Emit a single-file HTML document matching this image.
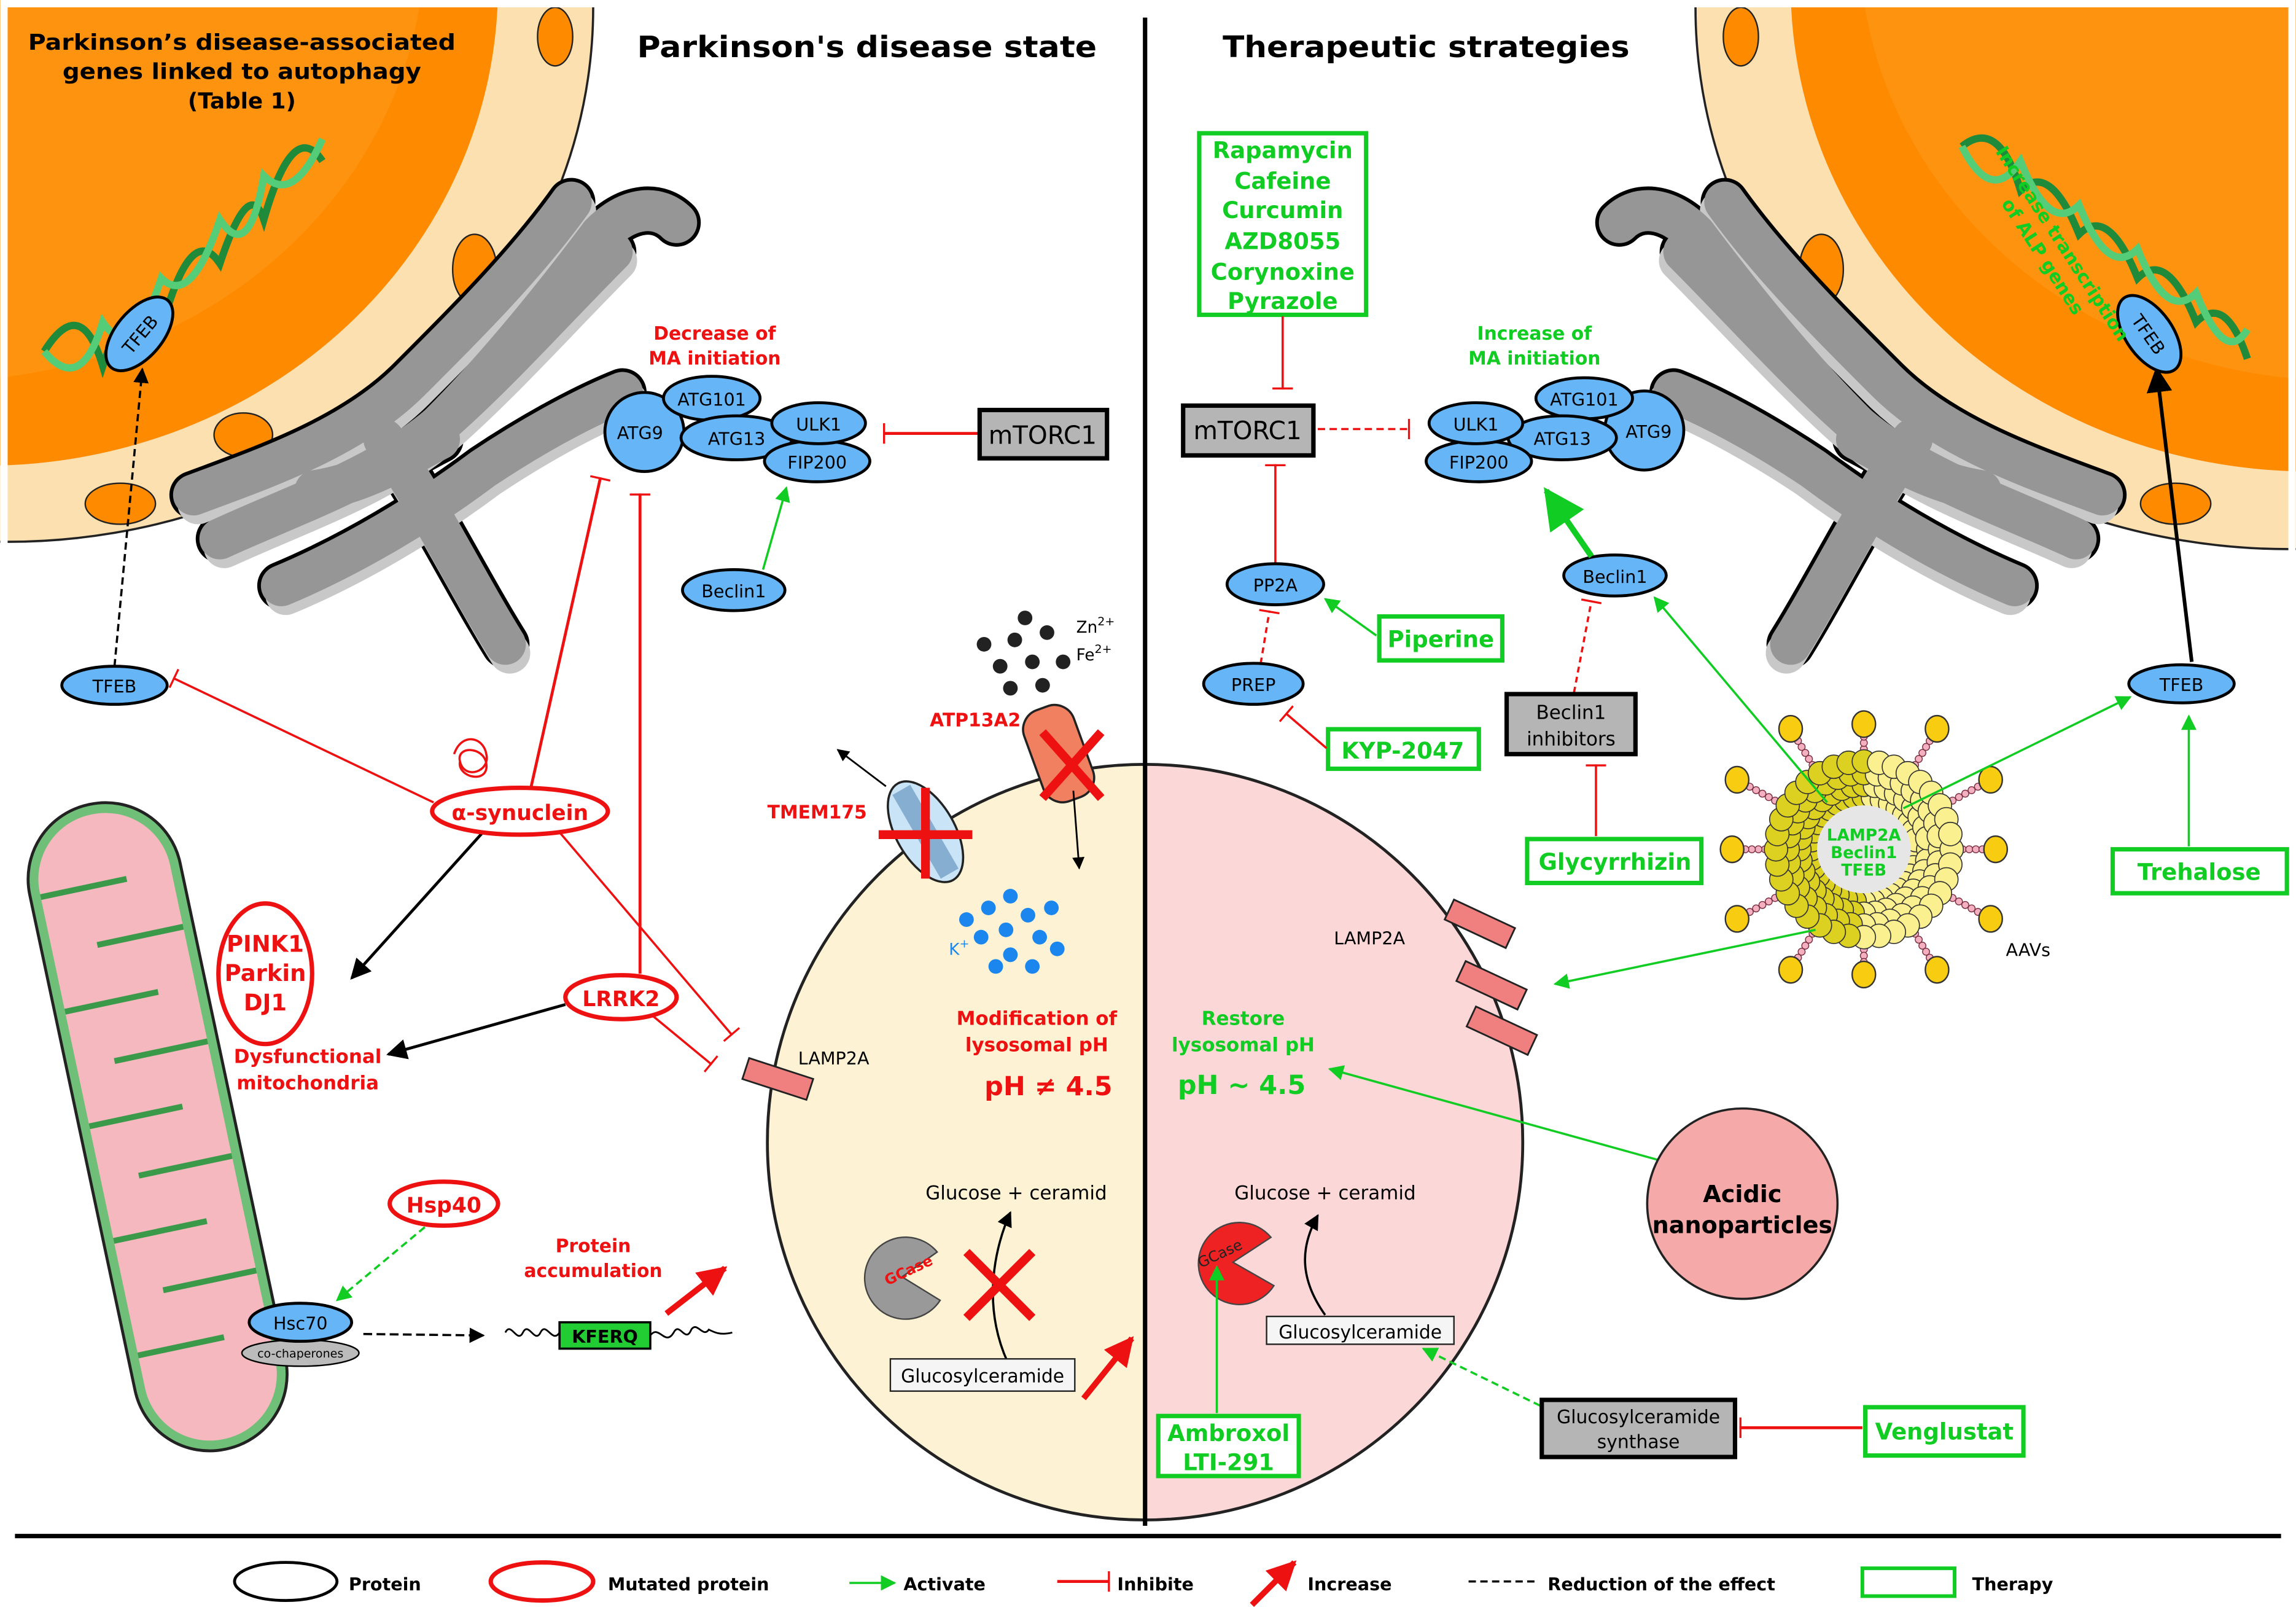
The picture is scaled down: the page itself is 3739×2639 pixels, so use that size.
<!DOCTYPE html>
<html><head><meta charset="utf-8"><style>
html,body{margin:0;padding:0;background:#fff}
svg{display:block}
text{font-family:"DejaVu Sans","Liberation Sans",sans-serif}
.b{font-weight:bold}
.r{fill:#ee1111}
.g{fill:#11cc22}
</style></head><body>
<svg id="s" width="3739" height="2639" viewBox="0 0 1568 1107" xmlns="http://www.w3.org/2000/svg">
<defs>
<marker id="ak" viewBox="0 0 10 10" refX="9" refY="5" markerWidth="7" markerHeight="7" orient="auto"><path d="M0,0L10,5L0,10z" fill="#000"/></marker>
<marker id="ag" viewBox="0 0 10 10" refX="9" refY="5" markerWidth="7" markerHeight="7" orient="auto"><path d="M0,0L10,5L0,10z" fill="#11cc22"/></marker>
<marker id="ar" viewBox="0 0 10 10" refX="9" refY="5" markerWidth="5" markerHeight="5" orient="auto"><path d="M0,0L10,5L0,10z" fill="#ee1111"/></marker>
<marker id="tr" viewBox="0 0 4 20" refX="2" refY="10" markerWidth="4" markerHeight="14" orient="auto" markerUnits="userSpaceOnUse"><rect x="0" y="0" width="2" height="20" fill="#ee1111"/></marker>
<g id="golgi">
<g fill="none" stroke-linecap="round" stroke-linejoin="round">
<g stroke="#000" stroke-width="33">
<path d="M132,338 C180,320 240,300 280,260 C320,220 360,180 390,138"/>
<path d="M150,368 C200,345 260,325 300,290 C340,255 380,210 418,172"/>
<path d="M192,400 C240,380 290,350 330,320 C360,300 395,280 425,268"/>
<path d="M262,300 C290,340 320,400 345,440"/>
<path d="M300,290 C340,250 380,200 410,160 C430,140 450,140 462,152"/>
<path d="M215,335 C250,330 280,310 300,300"/>
</g>
<g stroke="#c8c8c8" stroke-width="28" transform="translate(3,6)">
<path d="M132,338 C180,320 240,300 280,260 C320,220 360,180 390,138"/>
<path d="M150,368 C200,345 260,325 300,290 C340,255 380,210 418,172"/>
<path d="M192,400 C240,380 290,350 330,320 C360,300 395,280 425,268"/>
<path d="M262,300 C290,340 320,400 345,440"/>
</g>
<g stroke="#969696" stroke-width="28">
<path d="M132,338 C180,320 240,300 280,260 C320,220 360,180 390,138"/>
<path d="M150,368 C200,345 260,325 300,290 C340,255 380,210 418,172"/>
<path d="M192,400 C240,380 290,350 330,320 C360,300 395,280 425,268"/>
<path d="M262,300 C290,340 320,400 345,440"/>
<path d="M300,290 C340,250 380,200 410,160 C430,140 450,140 462,152"/>
<path d="M215,335 C250,330 280,310 300,300"/>
</g>
</g>
</g>
</defs>
<rect width="1568" height="1107" fill="#fff"/>

<!-- Left nucleus -->
<ellipse cx="5" cy="5" rx="400" ry="365" fill="#fde0b0" stroke="#222" stroke-width="1.5"/>
<ellipse cx="-10" cy="-10" rx="350" ry="328" fill="#fe8a00"/>
<ellipse cx="-40" cy="-40" rx="330" ry="300" fill="#fe9a1a" opacity=".6"/>
<g fill="#fe8a00" stroke="#222" stroke-width="1">
<ellipse cx="82" cy="344" rx="24" ry="14"/><ellipse cx="166" cy="297" rx="20" ry="15"/><ellipse cx="324" cy="184" rx="15" ry="24"/><ellipse cx="379" cy="25" rx="12" ry="20"/></g>
<rect x="0" y="0" width="5" height="1048" fill="#fff"/><rect x="0" y="0" width="780" height="5" fill="#fff"/>
<!-- Right nucleus -->
<ellipse cx="1563" cy="5" rx="405" ry="370" fill="#fde0b0" stroke="#222" stroke-width="1.5"/>
<ellipse cx="1578" cy="-10" rx="355" ry="332" fill="#fe8a00"/>
<ellipse cx="1600" cy="-40" rx="330" ry="300" fill="#fe9a1a" opacity=".6"/>
<g fill="#fe8a00" stroke="#222" stroke-width="1">
<ellipse cx="1486" cy="344" rx="24" ry="14"/><ellipse cx="1244" cy="184" rx="15" ry="24"/><ellipse cx="1189" cy="25" rx="12" ry="20"/></g>
<rect x="1563" y="0" width="5" height="1048" fill="#fff"/><rect x="782" y="0" width="786" height="5" fill="#fff"/>

<!-- DNA -->
<g fill="none" stroke-width="5">
<path d="M30,240 Q55,200 70,250 Q90,190 110,225 Q130,150 150,180 Q170,120 180,150 Q200,80 220,110" stroke="#1e8a3a"/>
<path d="M30,240 Q55,270 70,220 Q90,250 110,190 Q130,210 150,150 Q170,180 180,120 Q200,140 220,95" stroke="#55cc77"/>
</g>
<g fill="none" stroke-width="5">
<path d="M1340,100 Q1365,80 1380,130 Q1400,110 1420,160 Q1440,140 1460,190 Q1480,170 1500,220 Q1520,200 1535,245" stroke="#1e8a3a"/>
<path d="M1340,100 Q1360,140 1380,110 Q1400,160 1420,140 Q1440,190 1460,170 Q1480,220 1500,200 Q1520,250 1535,225" stroke="#55cc77"/>
</g>

<!-- Golgi -->
<use href="#golgi"/>
<use href="#golgi" transform="translate(1568,0) scale(-1,1)"/>

<!-- Lysosome -->
<path d="M782,522 A258,258 0 0 0 782,1038 Z" fill="#fdf3d4" stroke="#222" stroke-width="2"/>
<path d="M782,522 A258,258 0 0 1 782,1038 Z" fill="#fcd7d7" stroke="#222" stroke-width="2"/>

<!-- Mitochondrion -->
<g transform="rotate(-12 105 770)">
<rect x="55" y="545" width="105" height="450" rx="52" fill="#6fbf78" stroke="#222" stroke-width="2"/>
<rect x="62" y="552" width="91" height="436" rx="45" fill="#f4b8be"/>
<g fill="none" stroke="#3a9a4a" stroke-width="4">
<path d="M62,600 h60"/><path d="M153,640 h-60"/><path d="M62,680 h65"/><path d="M153,720 h-65"/><path d="M62,760 h65"/><path d="M153,800 h-65"/><path d="M62,840 h65"/><path d="M153,880 h-65"/><path d="M62,920 h60"/></g>
</g>

<!-- dividing lines -->
<line x1="782" y1="12" x2="782" y2="1042" stroke="#000" stroke-width="3"/>
<line x1="10" y1="1049" x2="1558" y2="1049" stroke="#000" stroke-width="3"/>

<!-- Titles -->
<text x="165" y="34" text-anchor="middle" class="b" font-size="15" textLength="292" lengthAdjust="spacingAndGlyphs">Parkinson’s disease-associated</text>
<text x="165" y="54" text-anchor="middle" class="b" font-size="15" textLength="245" lengthAdjust="spacingAndGlyphs">genes linked to autophagy</text>
<text x="165" y="74" text-anchor="middle" class="b" font-size="15">(Table 1)</text>
<text x="592" y="39" text-anchor="middle" class="b" font-size="20" textLength="314" lengthAdjust="spacingAndGlyphs">Parkinson's disease state</text>
<text x="974" y="39" text-anchor="middle" class="b" font-size="20" textLength="278" lengthAdjust="spacingAndGlyphs">Therapeutic strategies</text>

<!-- LEFT SIDE -->
<line x1="78" y1="455" x2="97" y2="252" stroke="#000" stroke-width="1.5" stroke-dasharray="5,3" marker-end="url(#ak)"/>
<g transform="rotate(-50 95 228)"><ellipse cx="95" cy="228" rx="30" ry="16" fill="#66b5f6" stroke="#000" stroke-width="2"/><text x="95" y="233" text-anchor="middle" font-size="12">TFEB</text></g>
<ellipse cx="78" cy="468" rx="36" ry="13" fill="#66b5f6" stroke="#000" stroke-width="2"/><text x="78" y="473" text-anchor="middle" font-size="12">TFEB</text>

<text x="488" y="232" text-anchor="middle" class="b r" font-size="12.5">Decrease of</text>
<text x="488" y="249" text-anchor="middle" class="b r" font-size="12.5">MA initiation</text>
<g stroke="#000" stroke-width="2" fill="#66b5f6">
<circle cx="440" cy="295" r="27"/>
<ellipse cx="486" cy="272" rx="33" ry="15"/>
<ellipse cx="503" cy="299" rx="38" ry="15"/>
<ellipse cx="558" cy="315" rx="36" ry="14"/>
<ellipse cx="559" cy="289" rx="32" ry="14"/>
</g>
<g font-size="12" text-anchor="middle">
<text x="437" y="300">ATG9</text><text x="486" y="277">ATG101</text><text x="503" y="304">ATG13</text><text x="559" y="294">ULK1</text><text x="558" y="320">FIP200</text></g>
<line x1="668" y1="296" x2="603" y2="296" stroke="#ee1111" stroke-width="2" marker-end="url(#tr)"/>
<rect x="669" y="280" width="87" height="33" fill="#b5b5b5" stroke="#000" stroke-width="3"/>
<text x="712" y="303" text-anchor="middle" font-size="17">mTORC1</text>
<ellipse cx="501" cy="403" rx="35" ry="14" fill="#66b5f6" stroke="#000" stroke-width="2"/><text x="501" y="408" text-anchor="middle" font-size="12">Beclin1</text>
<line x1="521" y1="389" x2="537" y2="333" stroke="#11cc22" stroke-width="1.5" marker-end="url(#ag)"/>

<line x1="362" y1="540" x2="410" y2="326" stroke="#ee1111" stroke-width="2" marker-end="url(#tr)"/>
<line x1="437" y1="665" x2="437" y2="337" stroke="#ee1111" stroke-width="2" marker-end="url(#tr)"/>
<line x1="296" y1="548" x2="118" y2="463" stroke="#ee1111" stroke-width="1.5" marker-end="url(#tr)"/>
<line x1="380" y1="566" x2="500" y2="707" stroke="#ee1111" stroke-width="1.5" marker-end="url(#tr)"/>
<line x1="446" y1="694" x2="486" y2="727" stroke="#ee1111" stroke-width="1.5" marker-end="url(#tr)"/>
<line x1="330" y1="568" x2="240" y2="668" stroke="#000" stroke-width="2" marker-end="url(#ak)"/>
<line x1="386" y1="686" x2="265" y2="720" stroke="#000" stroke-width="2" marker-end="url(#ak)"/>
<path d="M310,515 c5,-15 20,-12 22,0 c3,12 -15,18 -18,5 c-3,-12 20,-10 18,5 c-2,10 -20,5 -18,-5" fill="none" stroke="#ee1111" stroke-width="1.5"/>
<ellipse cx="355" cy="554" rx="60" ry="16" fill="#fff" stroke="#ee1111" stroke-width="3"/>
<text x="355" y="560" text-anchor="middle" class="b r" font-size="14.5">α-synuclein</text>
<ellipse cx="181" cy="665" rx="32" ry="48" fill="#fff" stroke="#ee1111" stroke-width="3"/>
<text x="181" y="650" text-anchor="middle" class="b r" font-size="15.5">PINK1</text>
<text x="181" y="670" text-anchor="middle" class="b r" font-size="15.5">Parkin</text>
<text x="181" y="690" text-anchor="middle" class="b r" font-size="15.5">DJ1</text>
<ellipse cx="424" cy="681" rx="38" ry="15" fill="#fff" stroke="#ee1111" stroke-width="3"/>
<text x="424" y="687" text-anchor="middle" class="b r" font-size="14.5">LRRK2</text>
<text x="210" y="726" text-anchor="middle" class="b r" font-size="13">Dysfunctional</text>
<text x="210" y="744" text-anchor="middle" class="b r" font-size="13">mitochondria</text>

<g transform="rotate(18 530 737)"><rect x="508" y="729" width="46" height="15" fill="#f08080" stroke="#222" stroke-width="1.2"/></g>
<text x="545" y="727" font-size="12">LAMP2A</text>

<ellipse cx="303" cy="822" rx="37" ry="15" fill="#fff" stroke="#ee1111" stroke-width="3"/>
<text x="303" y="828" text-anchor="middle" class="b r" font-size="14.5">Hsp40</text>
<line x1="290" y1="838" x2="230" y2="888" stroke="#11cc22" stroke-width="1.5" stroke-dasharray="5,3" marker-end="url(#ag)"/>
<ellipse cx="205" cy="924" rx="40" ry="9" fill="#bbb" stroke="#000" stroke-width="1"/>
<text x="205" y="927" text-anchor="middle" font-size="8">co-chaperones</text>
<ellipse cx="205" cy="903" rx="35" ry="13" fill="#66b5f6" stroke="#000" stroke-width="2"/><text x="205" y="908" text-anchor="middle" font-size="12">Hsc70</text>
<line x1="248" y1="911" x2="330" y2="912" stroke="#000" stroke-width="1.5" stroke-dasharray="6,3" marker-end="url(#ak)"/>
<path d="M345,910 c4,-8 8,8 12,0 c4,-8 8,8 12,0 c4,-8 8,8 13,0 M444,912 c6,-8 10,8 16,-2 c4,-8 8,8 12,-2 c4,-6 8,6 12,0 c4,2 8,4 16,2" fill="none" stroke="#000" stroke-width="1.2"/>
<rect x="382" y="903" width="62" height="18" fill="#22cc33" stroke="#000" stroke-width="1.5"/>
<text x="413" y="917" text-anchor="middle" class="b" font-size="12">KFERQ</text>
<text x="405" y="855" text-anchor="middle" class="b r" font-size="12.5">Protein</text>
<text x="405" y="872" text-anchor="middle" class="b r" font-size="12.5">accumulation</text>
<line x1="455" y1="897" x2="495" y2="866" stroke="#ee1111" stroke-width="4" marker-end="url(#ar)"/>

<!-- left lysosome content -->
<text x="708" y="700" text-anchor="middle" class="b r" font-size="13">Modification of</text>
<text x="708" y="718" text-anchor="middle" class="b r" font-size="13">lysosomal pH</text>
<text x="716" y="748" text-anchor="middle" class="b r" font-size="18">pH ≠ 4.5</text>
<text x="694" y="819" text-anchor="middle" font-size="13">Glucose + ceramid</text>
<path d="M688,930 C670,890 680,850 690,828" fill="none" stroke="#000" stroke-width="1.5" marker-end="url(#ak)"/>
<path d="M616,872 L640,855 A28,28 0 1 0 642,888 Z" fill="#999" stroke="#444" stroke-width="1"/>
<text x="606" y="878" class="b r" font-size="10" transform="rotate(-25 606 878)">GCase</text>
<path d="M660,855 L705,900 M705,855 L660,900" stroke="#ee1111" stroke-width="6"/>
<rect x="608" y="928" width="126" height="22" fill="#f5f5f5" stroke="#222" stroke-width="1"/>
<text x="671" y="944" text-anchor="middle" font-size="12.5">Glucosylceramide</text>
<line x1="740" y1="955" x2="773" y2="914" stroke="#ee1111" stroke-width="4" marker-end="url(#ar)"/>

<text x="666" y="496" text-anchor="middle" class="b r" font-size="12.5">ATP13A2</text>
<text x="558" y="559" text-anchor="middle" class="b r" font-size="12.5">TMEM175</text>
<g transform="rotate(-20 722 515)"><rect x="705" y="482" width="36" height="66" rx="14" fill="#f08060" stroke="#222" stroke-width="1.5"/></g>
<path d="M712,500 L752,545 M752,500 L712,545" stroke="#ee1111" stroke-width="6"/>
<g transform="rotate(-30 632 568)"><ellipse cx="632" cy="568" rx="20" ry="38" fill="#c8e4f6" stroke="#222" stroke-width="1.5"/><rect x="625" y="535" width="14" height="66" fill="#5a8ab8" opacity=".6"/></g>
<path d="M600,570 h64 M632,538 v62" stroke="#ee1111" stroke-width="6"/>
<line x1="605" y1="537" x2="572" y2="512" stroke="#000" stroke-width="1.2" marker-end="url(#ak)"/>
<line x1="733" y1="540" x2="737" y2="593" stroke="#000" stroke-width="1.2" marker-end="url(#ak)"/>
<g fill="#222"><circle cx="672" cy="440" r="5"/><circle cx="693" cy="437" r="5"/><circle cx="715" cy="432" r="5"/><circle cx="683" cy="455" r="5"/><circle cx="705" cy="452" r="5"/><circle cx="726" cy="452" r="5"/><circle cx="690" cy="470" r="5"/><circle cx="712" cy="468" r="5"/><circle cx="700" cy="422" r="5"/></g>
<text x="735" y="432" font-size="11">Zn<tspan dy="-5" font-size="8">2+</tspan></text>
<text x="735" y="451" font-size="11">Fe<tspan dy="-5" font-size="8">2+</tspan></text>
<g fill="#1a86ee"><circle cx="660" cy="628" r="5"/><circle cx="675" cy="620" r="5"/><circle cx="690" cy="612" r="5"/><circle cx="702" cy="625" r="5"/><circle cx="718" cy="620" r="5"/><circle cx="670" cy="640" r="5"/><circle cx="687" cy="635" r="5"/><circle cx="710" cy="640" r="5"/><circle cx="690" cy="652" r="5"/><circle cx="705" cy="660" r="5"/><circle cx="722" cy="648" r="5"/><circle cx="680" cy="660" r="5"/></g>
<text x="648" y="652" font-size="11" fill="#1a86ee">K<tspan dy="-5" font-size="8">+</tspan></text>

<!-- RIGHT SIDE -->
<rect x="819" y="91" width="114" height="124" fill="#fff" stroke="#11cc22" stroke-width="3"/>
<g class="b g" font-size="15.5" text-anchor="middle">
<text x="876" y="108">Rapamycin</text><text x="876" y="129">Cafeine</text><text x="876" y="149">Curcumin</text><text x="876" y="170">AZD8055</text><text x="876" y="191">Corynoxine</text><text x="876" y="211">Pyrazole</text></g>
<line x1="876" y1="216" x2="876" y2="266" stroke="#ee1111" stroke-width="1.5" marker-end="url(#tr)"/>
<rect x="808" y="277" width="89" height="34" fill="#b5b5b5" stroke="#000" stroke-width="3"/>
<text x="852" y="300" text-anchor="middle" font-size="17">mTORC1</text>
<line x1="900" y1="293" x2="963" y2="293" stroke="#ee1111" stroke-width="1.5" stroke-dasharray="5,3" marker-end="url(#tr)"/>
<text x="1048" y="232" text-anchor="middle" class="b g" font-size="12.5">Increase of</text>
<text x="1048" y="249" text-anchor="middle" class="b g" font-size="12.5">MA initiation</text>
<g stroke="#000" stroke-width="2" fill="#66b5f6">
<circle cx="1123" cy="294" r="27"/>
<ellipse cx="1082" cy="272" rx="33" ry="14"/>
<ellipse cx="1067" cy="299" rx="37" ry="15"/>
<ellipse cx="1010" cy="315" rx="36" ry="14"/>
<ellipse cx="1008" cy="289" rx="32" ry="14"/>
</g>
<g font-size="12" text-anchor="middle">
<text x="1126" y="299">ATG9</text><text x="1082" y="277">ATG101</text><text x="1067" y="304">ATG13</text><text x="1008" y="294">ULK1</text><text x="1010" y="320">FIP200</text></g>

<line x1="871" y1="385" x2="871" y2="317" stroke="#ee1111" stroke-width="1.5" marker-end="url(#tr)"/>
<ellipse cx="871" cy="399" rx="33" ry="14" fill="#66b5f6" stroke="#000" stroke-width="2"/><text x="871" y="404" text-anchor="middle" font-size="12">PP2A</text>
<line x1="861" y1="453" x2="867" y2="417" stroke="#ee1111" stroke-width="1.5" stroke-dasharray="4,3" marker-end="url(#tr)"/>
<ellipse cx="856" cy="467" rx="34" ry="14" fill="#66b5f6" stroke="#000" stroke-width="2"/><text x="856" y="472" text-anchor="middle" font-size="12">PREP</text>
<rect x="942" y="421" width="84" height="30" fill="#fff" stroke="#11cc22" stroke-width="3"/>
<text x="984" y="442" text-anchor="middle" class="b g" font-size="15.5">Piperine</text>
<line x1="940" y1="434" x2="905" y2="409" stroke="#11cc22" stroke-width="1.5" marker-end="url(#ag)"/>
<rect x="907" y="498" width="103" height="27" fill="#fff" stroke="#11cc22" stroke-width="3"/>
<text x="958" y="518" text-anchor="middle" class="b g" font-size="15.5">KYP-2047</text>
<line x1="906" y1="511" x2="878" y2="487" stroke="#ee1111" stroke-width="1.5" marker-end="url(#tr)"/>
<ellipse cx="1103" cy="393" rx="35" ry="14" fill="#66b5f6" stroke="#000" stroke-width="2"/><text x="1103" y="398" text-anchor="middle" font-size="12">Beclin1</text>
<line x1="1087" y1="380" x2="1056" y2="335" stroke="#11cc22" stroke-width="4" marker-end="url(#ag)"/>
<line x1="1075" y1="473" x2="1087" y2="410" stroke="#ee1111" stroke-width="1.5" stroke-dasharray="4,3" marker-end="url(#tr)"/>
<rect x="1029" y="474" width="88" height="41" fill="#b5b5b5" stroke="#000" stroke-width="3"/>
<text x="1073" y="491" text-anchor="middle" font-size="13">Beclin1</text>
<text x="1073" y="509" text-anchor="middle" font-size="13">inhibitors</text>
<line x1="1090" y1="571" x2="1090" y2="522" stroke="#ee1111" stroke-width="1.5" marker-end="url(#tr)"/>
<rect x="1043" y="573" width="119" height="30" fill="#fff" stroke="#11cc22" stroke-width="3"/>
<text x="1103" y="594" text-anchor="middle" class="b g" font-size="15.5">Glycyrrhizin</text>

<line x1="1497" y1="452" x2="1473" y2="252" stroke="#000" stroke-width="2.5" marker-end="url(#ak)"/>
<g transform="rotate(55 1468 228)"><ellipse cx="1468" cy="228" rx="30" ry="16" fill="#66b5f6" stroke="#000" stroke-width="2"/><text x="1468" y="233" text-anchor="middle" font-size="12">TFEB</text></g>
<text class="b g" font-size="12.5" text-anchor="middle" transform="translate(1400,172) rotate(57)"><tspan x="0" y="-6">Increase transcription</tspan><tspan x="0" y="10">of ALP genes</tspan></text>
<ellipse cx="1490" cy="467" rx="36" ry="13" fill="#66b5f6" stroke="#000" stroke-width="2"/><text x="1490" y="472" text-anchor="middle" font-size="12">TFEB</text>
<rect x="1443" y="580" width="119" height="30" fill="#fff" stroke="#11cc22" stroke-width="3"/>
<text x="1502" y="601" text-anchor="middle" class="b g" font-size="15.5">Trehalose</text>
<line x1="1495" y1="578" x2="1495" y2="489" stroke="#11cc22" stroke-width="1.5" marker-end="url(#ag)"/>

<!-- nanoparticle -->
<g id="np"></g>
<line x1="1248" y1="548" x2="1130" y2="408" stroke="#11cc22" stroke-width="1.5" marker-end="url(#ag)"/>
<line x1="1300" y1="552" x2="1455" y2="476" stroke="#11cc22" stroke-width="1.5" marker-end="url(#ag)"/>
<line x1="1240" y1="635" x2="1062" y2="672" stroke="#11cc22" stroke-width="1.5" marker-end="url(#ag)"/>
<text x="1370" y="653" font-size="12">AAVs</text>

<g transform="rotate(25 1010 630)"><rect x="988" y="623" width="46" height="15" fill="#f08080" stroke="#222" stroke-width="1.2"/></g>
<g transform="rotate(25 1018 672)"><rect x="996" y="665" width="46" height="15" fill="#f08080" stroke="#222" stroke-width="1.2"/></g>
<g transform="rotate(25 1025 703)"><rect x="1003" y="696" width="46" height="15" fill="#f08080" stroke="#222" stroke-width="1.2"/></g>
<text x="911" y="645" font-size="12">LAMP2A</text>
<text x="849" y="700" text-anchor="middle" class="b g" font-size="13">Restore</text>
<text x="849" y="718" text-anchor="middle" class="b g" font-size="13">lysosomal pH</text>
<text x="848" y="747" text-anchor="middle" class="b g" font-size="18">pH ~ 4.5</text>
<line x1="1132" y1="792" x2="908" y2="730" stroke="#11cc22" stroke-width="1.5" marker-end="url(#ag)"/>
<circle cx="1190" cy="822" r="65" fill="#f5a9a9" stroke="#222" stroke-width="1.5"/>
<text x="1190" y="821" text-anchor="middle" class="b" font-size="16">Acidic</text>
<text x="1190" y="842" text-anchor="middle" class="b" font-size="16">nanoparticles</text>
<text x="905" y="819" text-anchor="middle" font-size="13">Glucose + ceramid</text>
<path d="M905,898 C885,870 890,848 900,830" fill="none" stroke="#000" stroke-width="1.5" marker-end="url(#ak)"/>
<path d="M842,862 L868,845 A28,28 0 1 0 870,878 Z" fill="#ee2222" stroke="#444" stroke-width="1"/>
<text x="820" y="866" font-size="10" fill="#222" transform="rotate(-25 820 866)">GCase</text>
<rect x="865" y="899" width="128" height="19" fill="#f5f5f5" stroke="#222" stroke-width="1"/>
<text x="929" y="914" text-anchor="middle" font-size="12.5">Glucosylceramide</text>
<line x1="831" y1="965" x2="831" y2="865" stroke="#11cc22" stroke-width="1.5" marker-end="url(#ag)"/>
<rect x="791" y="967" width="96" height="41" fill="#fff" stroke="#11cc22" stroke-width="3"/>
<text x="839" y="984" text-anchor="middle" class="b g" font-size="15.5">Ambroxol</text>
<text x="839" y="1004" text-anchor="middle" class="b g" font-size="15.5">LTI-291</text>
<line x1="1052" y1="960" x2="972" y2="921" stroke="#11cc22" stroke-width="1.5" stroke-dasharray="5,3" marker-end="url(#ag)"/>
<rect x="1053" y="956" width="132" height="39" fill="#b5b5b5" stroke="#000" stroke-width="3"/>
<text x="1119" y="972" text-anchor="middle" font-size="12.5">Glucosylceramide</text>
<text x="1119" y="989" text-anchor="middle" font-size="12.5">synthase</text>
<line x1="1272" y1="975" x2="1188" y2="975" stroke="#ee1111" stroke-width="2" marker-end="url(#tr)"/>
<rect x="1274" y="961" width="108" height="33" fill="#fff" stroke="#11cc22" stroke-width="3"/>
<text x="1328" y="983" text-anchor="middle" class="b g" font-size="15.5">Venglustat</text>

<!-- legend -->
<ellipse cx="195" cy="1080" rx="35" ry="13" fill="#fff" stroke="#000" stroke-width="2"/>
<text x="238" y="1086" class="b" font-size="12">Protein</text>
<ellipse cx="370" cy="1080" rx="35" ry="13" fill="#fff" stroke="#ee1111" stroke-width="3"/>
<text x="415" y="1086" class="b" font-size="12">Mutated protein</text>
<line x1="580" y1="1081" x2="611" y2="1081" stroke="#11cc22" stroke-width="1.5" marker-end="url(#ag)"/>
<text x="617" y="1086" class="b" font-size="12">Activate</text>
<line x1="722" y1="1080" x2="758" y2="1080" stroke="#ee1111" stroke-width="2" marker-end="url(#tr)"/>
<text x="763" y="1086" class="b" font-size="12">Inhibite</text>
<line x1="855" y1="1096" x2="884" y2="1067" stroke="#ee1111" stroke-width="4" marker-end="url(#ar)"/>
<text x="893" y="1086" class="b" font-size="12">Increase</text>
<line x1="1003" y1="1080" x2="1048" y2="1080" stroke="#000" stroke-width="1.5" stroke-dasharray="5,3"/>
<text x="1057" y="1086" class="b" font-size="12">Reduction of the effect</text>
<rect x="1272" y="1071" width="63" height="19" fill="#fff" stroke="#11cc22" stroke-width="2.5"/>
<text x="1347" y="1086" class="b" font-size="12">Therapy</text>
</svg>
<script>
(function(){
var g=document.getElementById('np'),cx=1273,cy=580,h='';
var ang=[0,30,60,90,120,150,180,210,240,270,300,330];
ang.forEach(function(a){var r=a*Math.PI/180,L=(a%90==0)?90:100;
var x2=cx+L*Math.cos(r),y2=cy+L*Math.sin(r)*0.95;
for(var t=0.55;t<0.95;t+=0.05){h+='<circle cx="'+(cx+(x2-cx)*t)+'" cy="'+(cy+(y2-cy)*t)+'" r="2.4" fill="#f4b0c0" stroke="#7a3040" stroke-width=".6"/>';}
h+='<ellipse cx="'+x2+'" cy="'+y2+'" rx="8" ry="9" fill="#f8cc10" stroke="#333" stroke-width="1"/>';});
for(var ring=3;ring>=0;ring--){var rx=60-ring*2,ry=60-ring*2;
for(var k=0;k<36;k++){var a=k/36*2*Math.PI;var x=cx+(rx-ring*6)*Math.cos(a),y=cy+(ry-ring*6)*Math.sin(a);
var c=Math.cos(a)>0?'#fbf090':'#dcd020';h+='<circle cx="'+x+'" cy="'+y+'" r="8" fill="'+c+'" stroke="#333" stroke-width=".7"/>';}}
h+='<ellipse cx="'+cx+'" cy="'+cy+'" rx="32" ry="30" fill="#e6e6e6"/>';
h+='<text x="'+cx+'" y="'+(cy-6)+'" text-anchor="middle" font-weight="bold" font-size="11" fill="#11cc22">LAMP2A</text>';
h+='<text x="'+cx+'" y="'+(cy+6)+'" text-anchor="middle" font-weight="bold" font-size="11" fill="#11cc22">Beclin1</text>';
h+='<text x="'+cx+'" y="'+(cy+18)+'" text-anchor="middle" font-weight="bold" font-size="11" fill="#11cc22">TFEB</text>';
g.innerHTML=h;})();
</script>
</body></html>
